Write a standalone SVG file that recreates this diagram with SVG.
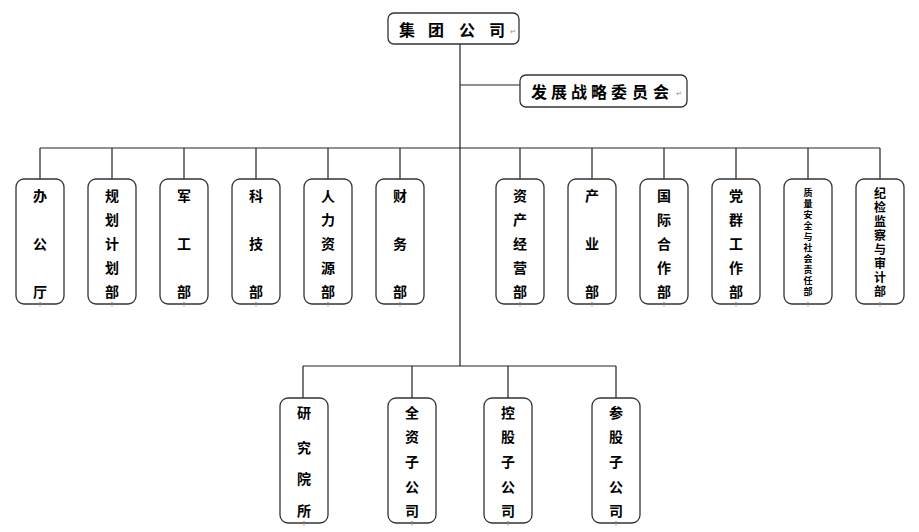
<svg xmlns="http://www.w3.org/2000/svg" width="919" height="532" viewBox="0 0 919 532">
<style>
.box{fill:#fff;stroke:#333;stroke-width:1.3}
.ln{stroke:#222;stroke-width:1.2;fill:none}
.t{font-family:"Noto Sans CJK SC","Noto Sans CJK JP",sans-serif;font-weight:bold;font-size:14px;fill:#000;text-anchor:middle;dominant-baseline:central}
.h{font-size:16px}
.v{writing-mode:vertical-rl;text-orientation:upright}
.s{font-size:9px;letter-spacing:2px}
.m{font-size:12px;letter-spacing:2px}
.pm{font-family:"DejaVu Sans",sans-serif;font-size:7px;fill:#888;text-anchor:middle;dominant-baseline:central}
</style>
<rect width="919" height="532" fill="#fff"/>
<g id="connectors">
<path class="ln" d="M460 44V366M460 85H520M40 148H880M303 366H616"/>
<path class="ln" d="M40 148V179M112 148V179M184 148V179M256 148V179M328 148V179M400 148V179M520 148V179M592 148V179M664 148V179M736 148V179M808 148V179M880 148V179"/>
<path class="ln" d="M303 366V398M412 366V398M508 366V398M616 366V398"/>
</g>
<g id="n-group"><rect class="box" x="388" y="13" width="131" height="31" rx="6"/>
<text class="t h"><tspan x="407" y="29">集</tspan><tspan x="436" y="29">团</tspan><tspan x="467" y="29">公</tspan><tspan x="497" y="29">司</tspan></text><text class="pm" x="513" y="32">↵</text></g>
<g id="n-strategy"><rect class="box" x="520" y="75" width="167" height="32" rx="6"/>
<text class="t h"><tspan x="539" y="91">发</tspan><tspan x="559" y="91">展</tspan><tspan x="579" y="91">战</tspan><tspan x="599" y="91">略</tspan><tspan x="619" y="91">委</tspan><tspan x="640" y="91">员</tspan><tspan x="661" y="91">会</tspan></text><text class="pm" x="679" y="94">↵</text></g>

<g id="n-office"><rect class="box" x="16" y="179" width="48" height="125" rx="8"/>
<text class="t"><tspan x="40" y="195">办</tspan><tspan x="40" y="243">公</tspan><tspan x="40" y="291">厅</tspan></text><text class="pm" x="40" y="305">↑</text></g>
<g id="n-plan"><rect class="box" x="88" y="179" width="48" height="125" rx="8"/>
<text class="t"><tspan x="112" y="195">规</tspan><tspan x="112" y="219">划</tspan><tspan x="112" y="243">计</tspan><tspan x="112" y="267">划</tspan><tspan x="112" y="291">部</tspan></text><text class="pm" x="112" y="305">↑</text></g>
<g id="n-military"><rect class="box" x="160" y="179" width="48" height="125" rx="8"/>
<text class="t"><tspan x="184" y="195">军</tspan><tspan x="184" y="243">工</tspan><tspan x="184" y="291">部</tspan></text><text class="pm" x="184" y="305">↑</text></g>
<g id="n-tech"><rect class="box" x="232" y="179" width="48" height="125" rx="8"/>
<text class="t"><tspan x="256" y="195">科</tspan><tspan x="256" y="243">技</tspan><tspan x="256" y="291">部</tspan></text><text class="pm" x="256" y="305">↑</text></g>
<g id="n-hr"><rect class="box" x="304" y="179" width="48" height="125" rx="8"/>
<text class="t"><tspan x="328" y="195">人</tspan><tspan x="328" y="219">力</tspan><tspan x="328" y="243">资</tspan><tspan x="328" y="267">源</tspan><tspan x="328" y="291">部</tspan></text><text class="pm" x="328" y="305">↑</text></g>
<g id="n-finance"><rect class="box" x="376" y="179" width="48" height="125" rx="8"/>
<text class="t"><tspan x="400" y="195">财</tspan><tspan x="400" y="243">务</tspan><tspan x="400" y="291">部</tspan></text><text class="pm" x="400" y="305">↑</text></g>
<g id="n-asset"><rect class="box" x="496" y="179" width="48" height="125" rx="8"/>
<text class="t"><tspan x="520" y="195">资</tspan><tspan x="520" y="219">产</tspan><tspan x="520" y="243">经</tspan><tspan x="520" y="267">营</tspan><tspan x="520" y="291">部</tspan></text><text class="pm" x="520" y="305">↑</text></g>
<g id="n-industry"><rect class="box" x="568" y="179" width="48" height="125" rx="8"/>
<text class="t"><tspan x="592" y="195">产</tspan><tspan x="592" y="243">业</tspan><tspan x="592" y="291">部</tspan></text><text class="pm" x="592" y="305">↑</text></g>
<g id="n-intl"><rect class="box" x="640" y="179" width="48" height="125" rx="8"/>
<text class="t"><tspan x="664" y="195">国</tspan><tspan x="664" y="219">际</tspan><tspan x="664" y="243">合</tspan><tspan x="664" y="267">作</tspan><tspan x="664" y="291">部</tspan></text><text class="pm" x="664" y="305">↑</text></g>
<g id="n-party"><rect class="box" x="712" y="179" width="48" height="125" rx="8"/>
<text class="t"><tspan x="736" y="195">党</tspan><tspan x="736" y="219">群</tspan><tspan x="736" y="243">工</tspan><tspan x="736" y="267">作</tspan><tspan x="736" y="291">部</tspan></text><text class="pm" x="736" y="305">↑</text></g>
<g id="n-quality"><rect class="box" x="784" y="179" width="48" height="125" rx="8"/>
<text class="t v s" x="808" y="243">质量安全与社会责任部</text><text class="pm" x="808" y="305">↑</text></g>
<g id="n-discipline"><rect class="box" x="856" y="179" width="48" height="125" rx="8"/>
<text class="t v m" x="880" y="243">纪检监察与审计部</text><text class="pm" x="880" y="305">↑</text></g>

<g id="n-research"><rect class="box" x="280" y="398" width="48" height="125" rx="8"/>
<text class="t"><tspan x="304" y="412">研</tspan><tspan x="304" y="447">究</tspan><tspan x="304" y="478">院</tspan><tspan x="304" y="510">所</tspan></text><text class="pm" x="304" y="524">↑</text></g>
<g id="n-whole"><rect class="box" x="388" y="398" width="48" height="125" rx="8"/>
<text class="t"><tspan x="412" y="412">全</tspan><tspan x="412" y="436">资</tspan><tspan x="412" y="461">子</tspan><tspan x="412" y="486">公</tspan><tspan x="412" y="510">司</tspan></text><text class="pm" x="412" y="524">↑</text></g>
<g id="n-holding"><rect class="box" x="484" y="398" width="48" height="125" rx="8"/>
<text class="t"><tspan x="508" y="412">控</tspan><tspan x="508" y="436">股</tspan><tspan x="508" y="461">子</tspan><tspan x="508" y="486">公</tspan><tspan x="508" y="510">司</tspan></text><text class="pm" x="508" y="524">↑</text></g>
<g id="n-stake"><rect class="box" x="592" y="398" width="48" height="125" rx="8"/>
<text class="t"><tspan x="616" y="412">参</tspan><tspan x="616" y="436">股</tspan><tspan x="616" y="461">子</tspan><tspan x="616" y="486">公</tspan><tspan x="616" y="510">司</tspan></text><text class="pm" x="616" y="524">↑</text></g>
</svg>
